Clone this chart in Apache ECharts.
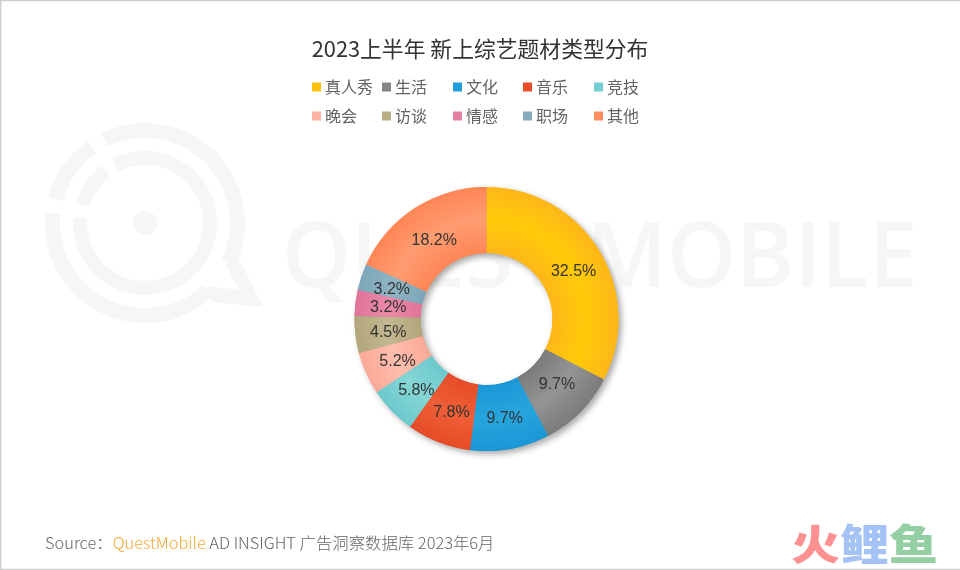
<!DOCTYPE html>
<html>
<head>
<meta charset="utf-8">
<title>2023上半年 新上综艺题材类型分布</title>
<script src="https://cdn.jsdelivr.net/npm/echarts@6/dist/echarts.min.js"></script>
<style>
    html, body { margin: 0; padding: 0; background: #fff; }
    #chart { width: 960px; height: 570px; }
</style>
</head>
<body>
<div id="chart"></div>
<script>
    var categories = ['真人秀', '生活', '文化', '音乐', '竞技', '晚会', '访谈', '情感', '职场', '其他'];
    var shares = [32.5, 9.7, 9.7, 7.8, 5.8, 5.2, 4.5, 3.2, 3.2, 18.2];
    // 每块的 [内外圈深色, 中间浅色]
    var sliceColors = [
        ['#fdb71a', '#ffcb08'], ['#7b7b7b', '#949494'], ['#1a97d6', '#27a5dd'], ['#e64c28', '#ee5f38'],
        ['#6cc8cc', '#86d6d6'], ['#fba996', '#ffbeae'], ['#b3a67c', '#c2b78f'], ['#e0749a', '#ea8aa8'],
        ['#7ca6b8', '#90b5c4'], ['#ff8655', '#ff9c72']
    ];
    var legendColors = ['#fdc010', '#858585', '#1f9dd9', '#ea4f2b', '#73cdd1', '#fdb3a2', '#b9ae84', '#e37f9f', '#84abbb', '#ff8d5e'];
    var legendSpots = [
        [312, 79], [382, 79], [453, 79], [523, 79], [594, 79],
        [312, 108], [382, 108], [453, 108], [523, 108], [594, 108]
    ];
    // 标签相对默认位置的微调
    var labelNudges = [[0, 6], [-2, -6], [0, -1], [2, -1], [3, 0], [4, 1], [3, 1], [3, 1], [2, 3], [3, 7]];

    var cjk = '"Noto Sans CJK SC", "Noto Sans", sans-serif';
    var cx = 486.5, cy = 319, outer = 132, inner = 66;
    var logoX = 145, logoY = 223, markColor = '#f6f6f6';

    function ring(r0, r, from, to) {
        return {
            type: 'sector',
            silent: true,
            shape: { cx: logoX, cy: logoY, r0: r0, r: r, startAngle: from * Math.PI / 180, endAngle: to * Math.PI / 180 },
            style: { fill: markColor }
        };
    }

    function sliceFill(i) {
        return {
            type: 'radial', global: true, x: cx, y: cy, r: outer,
            colorStops: [
                { offset: 0.5, color: sliceColors[i][0] },
                { offset: 0.75, color: sliceColors[i][1] },
                { offset: 1, color: sliceColors[i][0] }
            ]
        };
    }

    var chart = echarts.init(document.getElementById('chart'), null, { renderer: 'canvas' });
    var option = {
        animation: false,
        backgroundColor: '#fff',
        textStyle: { fontFamily: cjk },
        title: {
            text: '2023上半年 新上综艺题材类型分布',
            left: 'center',
            top: 33,
            textStyle: { fontFamily: cjk, fontSize: 21.8, fontWeight: 'normal', color: '#333' }
        },
        // 每个图例单独定位，才能对上原图不等宽的间距
        legend: categories.map(function (name, i) {
            return {
                left: legendSpots[i][0],
                top: legendSpots[i][1],
                data: [{ name: name, icon: 'rect', itemStyle: { color: legendColors[i], shadowBlur: 0, shadowOffsetX: 0, shadowOffsetY: 0 } }],
                selectedMode: false,
                padding: 0,
                itemWidth: 9,
                itemHeight: 9,
                itemGap: 0,
                textStyle: { fontFamily: cjk, fontSize: 16, color: '#636363', padding: [0, 0, 0, -1] }
            };
        }),
        graphic: [
            { type: 'polyline', silent: true, z: -10, shape: { points: [[960, 0.5], [0.7, 0.5], [0.7, 569.5], [960, 569.5]] }, style: { fill: 'none', stroke: '#cfcfcf', lineWidth: 1.4 } },
            // 水印
            ring(85, 100, -116, 25),
            ring(85, 100, 47, 186),
            ring(85, 100, 195, 235),
            ring(58, 72, -117, 185),
            ring(58, 72, 196, 233),
            { type: 'circle', silent: true, shape: { cx: logoX, cy: logoY, r: 12 }, style: { fill: markColor } },
            { type: 'polygon', silent: true, shape: { points: [[225, 263], [240, 260], [263, 307], [212, 302], [208, 286], [239, 290]] }, style: { fill: markColor } },
            { type: 'text', silent: true, x: 282, y: 216, scaleX: 0.965, style: { text: 'QUEST MOBILE', font: '600 91px "Open Sans", sans-serif', fill: markColor } },
            // 底部来源
            {
                type: 'text', silent: true, left: 45, top: 535,
                style: {
                    text: '{a|Source：}{b|QuestMobile}{a| AD INSIGHT 广告洞察数据库 2023年6月}',
                    rich: {
                        a: { font: '300 16.4px "Noto Sans CJK SC", sans-serif', fill: '#666' },
                        b: { font: '300 16.4px "Noto Sans CJK SC", sans-serif', fill: '#f5a733' }
                    }
                }
            },
            {
                type: 'text', silent: true, x: 791, y: 523, scaleY: 0.85,
                style: {
                    text: '{a|火}{b|鲤}{c|鱼}',
                    rich: {
                        a: { font: '900 49px "Noto Sans CJK SC", sans-serif', fill: '#fd9090' },
                        b: { font: '900 49px "Noto Sans CJK SC", sans-serif', fill: '#a4c2f4' },
                        c: { font: '900 49px "Noto Sans CJK SC", sans-serif', fill: '#93cfa2' }
                    }
                }
            }
        ],
        series: [{
            // 底层只负责整环的阴影，避免阴影落到相邻扇形上
            type: 'pie',
            center: [cx, cy],
            radius: [inner, outer],
            startAngle: 90,
            silent: true,
            z: 1,
            data: categories.map(function (name, i) {
                return { name: name, value: shares[i], itemStyle: { color: sliceFill(i) } };
            }),
            itemStyle: { shadowBlur: 6, shadowOffsetX: 3, shadowOffsetY: 3, shadowColor: 'rgba(0,0,0,0.35)' },
            label: { show: false },
            labelLine: { show: false }
        }, {
            type: 'pie',
            center: [cx, cy],
            radius: [inner, outer],
            startAngle: 90,
            avoidLabelOverlap: false,
            silent: true,
            z: 2,
            data: categories.map(function (name, i) {
                return {
                    name: name,
                    value: shares[i],
                    itemStyle: { color: sliceFill(i) },
                    label: { offset: labelNudges[i] }
                };
            }),
            label: {
                show: true,
                position: 'inside',
                formatter: function (p) { return p.value.toFixed(1) + '%'; },
                fontFamily: '"Liberation Sans", Arial, sans-serif',
                fontSize: 16,
                color: '#333'
            },
            labelLine: { show: false }
        }]
    };
    chart.setOption(option);
</script>
</body>
</html>
